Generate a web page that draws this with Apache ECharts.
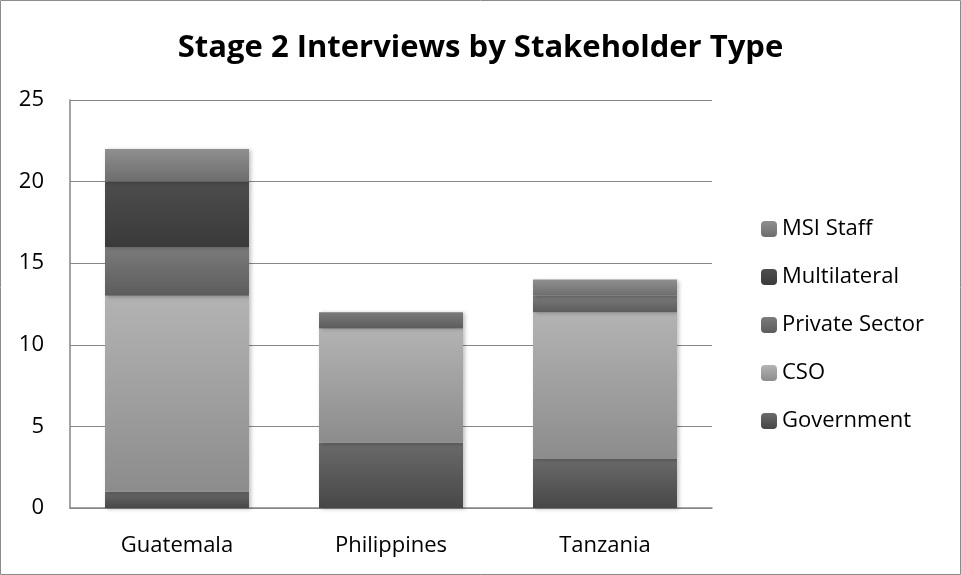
<!DOCTYPE html>
<html>
<head>
<meta charset="utf-8">
<script src="https://cdn.jsdelivr.net/npm/echarts@6/dist/echarts.min.js"></script>
<style>
  html, body { margin: 0; padding: 0; background: #fff; }
  #main { width: 961px; height: 575px; }
</style>
</head>
<body>
<div id="main"></div>
<script>
// categories and values
var countries = ['Guatemala', 'Philippines', 'Tanzania'];
var government = [1, 4, 3];
var cso = [12, 7, 9];
var privateSector = [3, 1, 1];
var multilateral = [4, 0, 0];
var msiStaff = [2, 0, 1];
var legendOrder = ['MSI Staff', 'Multilateral', 'Private Sector', 'CSO', 'Government'];

var font = '"Open Sans", "Noto Sans", sans-serif';

// vertical gradient like the old Excel bars
function grad(top, bottom) {
	return new echarts.graphic.LinearGradient(0, 0, 0, 1, [
		{ offset: 0, color: top },
		{ offset: 1, color: bottom }
	]);
}

function bar(name, data, top, bottom) {
	return {
		name: name,
		type: 'bar',
		stack: 'total',
		barWidth: 144,
		itemStyle: {
			color: grad(top, bottom),
			shadowColor: 'rgba(0,0,0,0.25)',
			shadowBlur: 4,
			shadowOffsetX: 2,
			shadowOffsetY: 1
		},
		data: data
	};
}

var myChart = echarts.init(document.getElementById('main'));
var option = {
	animation: false,
	backgroundColor: '#fff',
	graphic: [{
		type: 'rect',
		shape: { x: 0.5, y: 0.5, width: 960, height: 574 },
		style: { fill: 'none', stroke: '#8c8c8c', lineWidth: 1 }
	}],
	title: {
		text: 'Stage 2 Interviews by Stakeholder Type',
		left: 'center',
		top: 28,
		textStyle: { fontFamily: font, fontSize: 31, fontWeight: 'bold', color: '#000' }
	},
	legend: {
		orient: 'vertical',
		left: 761,
		top: 218,
		padding: 0,
		itemGap: 26,
		itemWidth: 16,
		itemHeight: 16,
		data: legendOrder,
		textStyle: { fontFamily: font, fontSize: 22, color: '#000' }
	},
	grid: { left: 70, right: 249, top: 100, bottom: 67 },
	xAxis: {
		type: 'category',
		data: countries,
		axisLine: { lineStyle: { color: '#868686', width: 1.5 } },
		axisTick: { show: false },
		axisLabel: { fontFamily: font, fontSize: 22, color: '#000', margin: 27 }
	},
	yAxis: {
		type: 'value',
		min: 0,
		max: 25,
		interval: 5,
		axisLine: { show: true, lineStyle: { color: '#868686', width: 1.5 } },
		axisTick: { show: false },
		splitLine: { lineStyle: { color: '#868686', width: 1 } },
		axisLabel: { fontFamily: font, fontSize: 22, color: '#000', margin: 26 }
	},
	series: [
		bar('Government', government, '#6a6a6a', '#474747'),
		bar('CSO', cso, '#b3b3b3', '#8c8c8c'),
		bar('Private Sector', privateSector, '#7b7b7b', '#5c5c5c'),
		bar('Multilateral', multilateral, '#4d4d4d', '#3a3a3a'),
		bar('MSI Staff', msiStaff, '#8f8f8f', '#6d6d6d')
	]
};
myChart.setOption(option);
</script>
</body>
</html>
